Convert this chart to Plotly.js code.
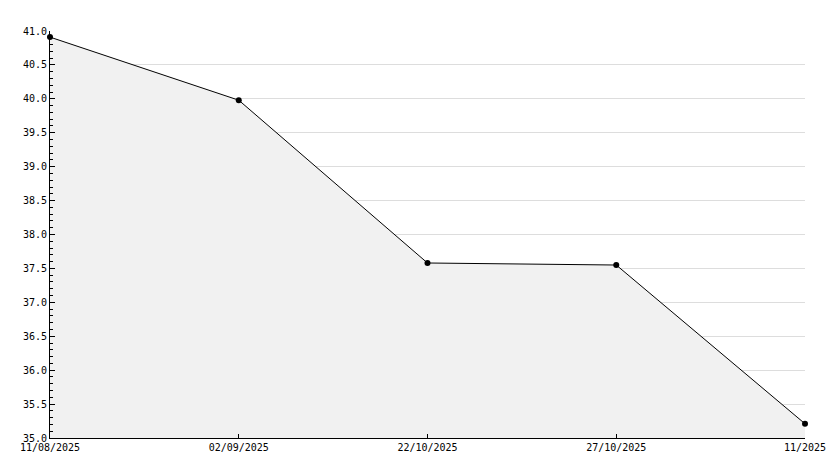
<!DOCTYPE html>
<html>
<head>
<meta charset="utf-8">
<script src="https://cdn.plot.ly/plotly-3.0.1.min.js"></script>
<style>html,body{margin:0;padding:0;background:#fff;}#chart{width:834px;height:468px;}</style>
</head>
<body>
<div id="chart"></div>
<script>
const dates = ["11/08/2025", "02/09/2025", "22/10/2025", "27/10/2025", "11/2025"];
const values = [40.91, 39.98, 37.58, 37.55, 35.21];

const fillTrace = {
  x: dates,
  y: values,
  type: 'scatter',
  mode: 'lines',
  fill: 'tozeroy',
  fillcolor: '#f1f1f1',
  line: {color: 'rgba(0,0,0,0)', width: 0},
  hoverinfo: 'skip'
};

const lineTrace = {
  x: dates,
  y: values,
  type: 'scatter',
  mode: 'lines+markers',
  cliponaxis: false,
  line: {color: '#000', width: 1},
  marker: {color: '#000', size: 6, symbol: 'circle'},
  hoverinfo: 'x+y'
};

const layout = {
  width: 834, height: 468,
  margin: {l: 50, r: 29, t: 31, b: 30},
  paper_bgcolor: '#fff', plot_bgcolor: '#fff',
  showlegend: false,
  font: {family: 'DejaVu Sans Mono, monospace', size: 10, color: '#000'},
  xaxis: {
    type: 'category',
    range: [0, 4],
    showgrid: false,
    zeroline: false,
    showline: true, linecolor: '#000', linewidth: 1,
    ticks: 'inside', ticklen: 4, tickcolor: '#000',
    tickfont: {family: 'DejaVu Sans Mono, monospace', size: 10, color: '#000'}
  },
  yaxis: {
    range: [35, 41],
    dtick: 0.5, tick0: 35,
    tickformat: '.1f',
    showgrid: true, gridcolor: '#dddddd', gridwidth: 1,
    zeroline: false,
    showline: true, linecolor: '#000', linewidth: 1,
    ticks: 'inside', ticklen: 5, tickcolor: '#000',
    minor: {dtick: 0.1, ticks: 'inside', ticklen: 3, tickcolor: '#000', showgrid: false},
    tickfont: {family: 'DejaVu Sans Mono, monospace', size: 10, color: '#000'}
  }
};

Plotly.newPlot('chart', [fillTrace, lineTrace], layout, {displayModeBar: false, staticPlot: true});
</script>
</body>
</html>
